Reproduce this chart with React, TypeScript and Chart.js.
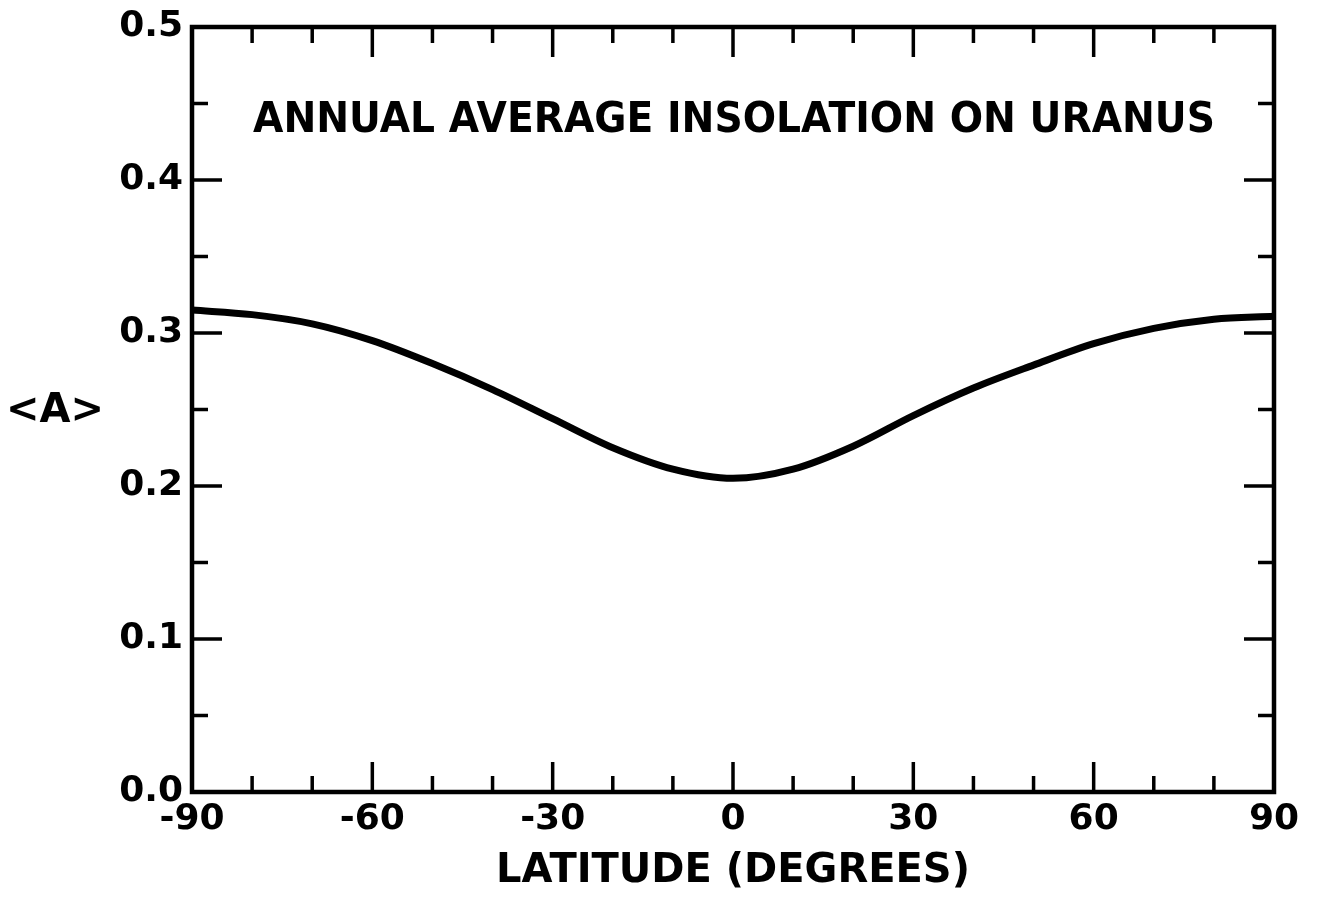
import React, { useEffect, useRef } from "react";
import { Chart, registerables } from "chart.js";

Chart.register(...registerables);

// ---- data ----
const latitudes = [-90, -80, -70, -60, -50, -40, -30, -20, -10, 0, 10, 20, 30, 40, 50, 60, 70, 80, 90];
const insolation = [0.315, 0.312, 0.306, 0.295, 0.280, 0.263, 0.244, 0.225, 0.211, 0.205, 0.211, 0.226, 0.246, 0.264, 0.279, 0.293, 0.303, 0.309, 0.311];

const xMajorTicks = [-90, -60, -30, 0, 30, 60, 90];
const xMinorTicks = [-80, -70, -50, -40, -20, -10, 10, 20, 40, 50, 70, 80];
const yMajorTicks = [0, 0.1, 0.2, 0.3, 0.4, 0.5];
const yMinorTicks = [0.05, 0.15, 0.25, 0.35, 0.45];

const chartTitle = "ANNUAL AVERAGE INSOLATION ON URANUS";
const xAxisTitle = "LATITUDE (DEGREES)";
const yAxisTitle = "<A>";

const FONT = "'DejaVu Sans', 'Liberation Sans', sans-serif";
const INK = "#000000";

const W = 1321;
const H = 905;

const framePlugin = {
  id: "framePlugin",
  afterDraw(chart: any) {
    const { ctx, chartArea } = chart;
    const xs = chart.scales.x;
    const ys = chart.scales.y;
    const { left, right, top, bottom } = chartArea;
    ctx.save();
    ctx.strokeStyle = INK;
    ctx.lineCap = "butt";

    // ticks (inward on all four sides)
    ctx.lineWidth = 3.5;
    const major = 30;
    const minor = 16;
    const drawX = (v: number, len: number) => {
      const px = xs.getPixelForValue(v);
      ctx.beginPath();
      ctx.moveTo(px, bottom);
      ctx.lineTo(px, bottom - len);
      ctx.moveTo(px, top);
      ctx.lineTo(px, top + len);
      ctx.stroke();
    };
    const drawY = (v: number, len: number) => {
      const py = ys.getPixelForValue(v);
      ctx.beginPath();
      ctx.moveTo(left, py);
      ctx.lineTo(left + len, py);
      ctx.moveTo(right, py);
      ctx.lineTo(right - len, py);
      ctx.stroke();
    };
    xMajorTicks.forEach((v) => drawX(v, major));
    xMinorTicks.forEach((v) => drawX(v, minor));
    yMajorTicks.forEach((v) => drawY(v, major));
    yMinorTicks.forEach((v) => drawY(v, minor));

    // frame
    ctx.lineWidth = 4.5;
    ctx.strokeRect(left, top, right - left, bottom - top);

    // title inside plot
    ctx.fillStyle = INK;
    ctx.font = `bold 42px ${FONT}`;
    ctx.textAlign = "center";
    ctx.textBaseline = "alphabetic";
    const tw = ctx.measureText(chartTitle).width;
    const target = 962;
    ctx.save();
    ctx.translate(734, 132);
    ctx.scale(target / tw, 1);
    ctx.fillText(chartTitle, 0, 0);
    ctx.restore();

    // y axis label (horizontal)
    ctx.font = `bold 40px ${FONT}`;
    ctx.textAlign = "center";
    ctx.textBaseline = "middle";
    ctx.fillText(yAxisTitle, 55, 412);
    ctx.restore();
  },
};

export default function App() {
  const ref = useRef<HTMLCanvasElement | null>(null);

  useEffect(() => {
    if (!ref.current) return;
    const data = latitudes.map((x, i) => ({ x, y: insolation[i] }));
    const chart = new Chart(ref.current, {
      type: "line",
      data: {
        datasets: [
          {
            data,
            borderColor: INK,
            borderWidth: 7,
            pointRadius: 0,
            fill: false,
            cubicInterpolationMode: "monotone",
          },
        ],
      },
      options: {
        animation: false,
        responsive: false,
        devicePixelRatio: 1,
        layout: { padding: { top: 27, right: 47, left: 0, bottom: 0 } },
        plugins: {
          legend: { display: false },
          tooltip: { enabled: false },
          title: { display: false },
        },
        scales: {
          x: {
            type: "linear",
            min: -90,
            max: 90,
            afterFit: (s: any) => {
              s.height = 113;
            },
            afterBuildTicks: (s: any) => {
              s.ticks = xMajorTicks.map((value) => ({ value }));
            },
            grid: { display: false, drawTicks: false },
            border: { display: false },
            ticks: {
              color: INK,
              padding: 10,
              maxRotation: 0,
              font: { family: FONT, size: 36, weight: "bold", lineHeight: 1 },
              callback: (v: any) => String(v),
            },
            title: {
              display: true,
              text: xAxisTitle,
              color: INK,
              font: { family: FONT, size: 40, weight: "bold", lineHeight: 1 },
              padding: { top: 0, bottom: 13 },
            },
          },
          y: {
            type: "linear",
            min: 0,
            max: 0.5,
            afterFit: (s: any) => {
              s.width = 192;
            },
            afterBuildTicks: (s: any) => {
              s.ticks = yMajorTicks.map((value) => ({ value }));
            },
            grid: { display: false, drawTicks: false },
            border: { display: false },
            ticks: {
              color: INK,
              padding: 9,
              font: { family: FONT, size: 36, weight: "bold", lineHeight: 1 },
              callback: (v: any) => Number(v).toFixed(1),
            },
          },
        },
      },
      plugins: [framePlugin],
    });
    return () => chart.destroy();
  }, []);

  return (
    <div style={{ position: "absolute", left: 0, top: 0, width: W, height: H, background: "#fff" }}>
      <canvas ref={ref} width={W} height={H} style={{ width: W, height: H, display: "block" }} />
    </div>
  );
}
